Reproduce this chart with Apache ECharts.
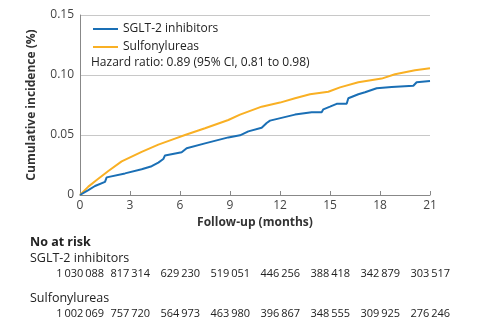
<!DOCTYPE html>
<html><head><meta charset="utf-8">
<script src="https://cdn.jsdelivr.net/npm/echarts@6/dist/echarts.min.js"></script>
<style>html,body{margin:0;padding:0;background:#fff}#c{width:482px;height:326px}</style>
</head><body><div id="c"></div>
<script>
const sgltMonths = [0,0.5,0.9,1.5,1.6,2.7,3.7,4.3,4.7,5.0,5.1,6.1,6.4,7.5,8.9,9.6,10.1,10.9,11.2,11.4,12.9,13.9,14.5,14.6,15,15.4,16.0,16.1,16.7,17.1,17.8,18.7,20.0,20.2,21];
const sgltIncidence = [0,0.004,0.0075,0.011,0.0147,0.018,0.0214,0.024,0.027,0.030,0.033,0.0356,0.039,0.043,0.048,0.0497,0.053,0.056,0.060,0.062,0.067,0.069,0.069,0.0714,0.0736,0.076,0.076,0.0806,0.084,0.0856,0.089,0.090,0.091,0.094,0.095];
const sulfMonths = [0,0.5,1,1.7,2.5,3.7,4.7,5.7,6.3,7.5,8.9,9.6,10.9,12,12.9,13.8,14.9,15.6,16.7,18.1,18.9,20.1,21];
const sulfIncidence = [0,0.007,0.0125,0.020,0.028,0.036,0.042,0.047,0.050,0.0556,0.0625,0.067,0.0736,0.077,0.0806,0.084,0.086,0.0897,0.094,0.097,0.1006,0.104,0.1056];
const seriesNames = ['SGLT-2 inhibitors','Sulfonylureas'];
const hazardText = 'Hazard ratio: 0.89 (95% CI, 0.81 to 0.98)';
const atRiskSGLT = ['1\u2009030\u2009088','817\u2009314','629\u2009230','519\u2009051','446\u2009256','388\u2009418','342\u2009879','303\u2009517'];
const atRiskSulf = ['1\u2009002\u2009069','757\u2009720','564\u2009973','463\u2009980','396\u2009867','348\u2009555','309\u2009925','276\u2009246'];
const atRiskRightX = [104,150,200,250,300,350,400,450];

const FONT = '"Open Sans", "Noto Sans", sans-serif';
const BLUE = '#1a6fb5', ORANGE = '#f9b024';
const chart = echarts.init(document.getElementById('c'));
const zip = (a,b)=>a.map((v,i)=>[v,b[i]]);
const g = [];
g.push({type:'text',left:30,top:236,style:{text:'No at risk',font:'bold 12.5px '+FONT,fill:'#222'}});
g.push({type:'text',left:30,top:252,style:{text:seriesNames[0],font:'12.5px '+FONT,fill:'#222'}});
g.push({type:'text',left:30,top:292,style:{text:seriesNames[1],font:'12.5px '+FONT,fill:'#222'}});
atRiskSGLT.forEach((t,i)=>g.push({type:'text',x:atRiskRightX[i],y:274,style:{text:t,font:'11px '+FONT,fill:'#222',align:'right',verticalAlign:'middle'}}));
atRiskSulf.forEach((t,i)=>g.push({type:'text',x:atRiskRightX[i],y:314,style:{text:t,font:'11px '+FONT,fill:'#222',align:'right',verticalAlign:'middle'}}));
g.push({type:'text',x:91,y:63,style:{text:hazardText,font:'12px '+FONT,fill:'#222',verticalAlign:'middle'}});

chart.setOption({
  animation:false,
  grid:{left:80,right:52,top:15,bottom:131},
  legend:{orient:'vertical',left:88,top:18,itemWidth:25,itemHeight:2,itemGap:6,icon:'rect',
    textStyle:{fontFamily:FONT,fontSize:12,color:'#222'},data:seriesNames},
  xAxis:{type:'value',min:0,max:21,interval:3,
    name:'Follow-up (months)',nameLocation:'middle',nameGap:22,
    nameTextStyle:{fontFamily:FONT,fontWeight:'bold',fontSize:12,color:'#333'},
    axisLine:{lineStyle:{color:'#888',width:1}},axisTick:{inside:true,length:4,lineStyle:{color:'#888'}},
    axisLabel:{fontFamily:FONT,fontSize:12,color:'#444',margin:5},splitLine:{show:false}},
  yAxis:{type:'value',min:0,max:0.15,interval:0.05,
    name:'Cumulative incidence (%)',nameLocation:'middle',nameGap:42,
    nameTextStyle:{fontFamily:FONT,fontWeight:'bold',fontSize:12,color:'#333'},
    axisLine:{show:true,lineStyle:{color:'#888',width:1}},axisTick:{show:false},
    axisLabel:{fontFamily:FONT,fontSize:12,color:'#444',margin:6,formatter:v=>v===0?'0':v.toFixed(2)},
    splitLine:{lineStyle:{color:'#c8c8c8',width:1}}},
  series:[
    {name:seriesNames[1],type:'line',data:zip(sulfMonths,sulfIncidence),showSymbol:false,lineStyle:{color:ORANGE,width:2},itemStyle:{color:ORANGE}},
    {name:seriesNames[0],type:'line',data:zip(sgltMonths,sgltIncidence),showSymbol:false,lineStyle:{color:BLUE,width:2},itemStyle:{color:BLUE}}
  ],
  graphic:g
});
</script></body></html>
